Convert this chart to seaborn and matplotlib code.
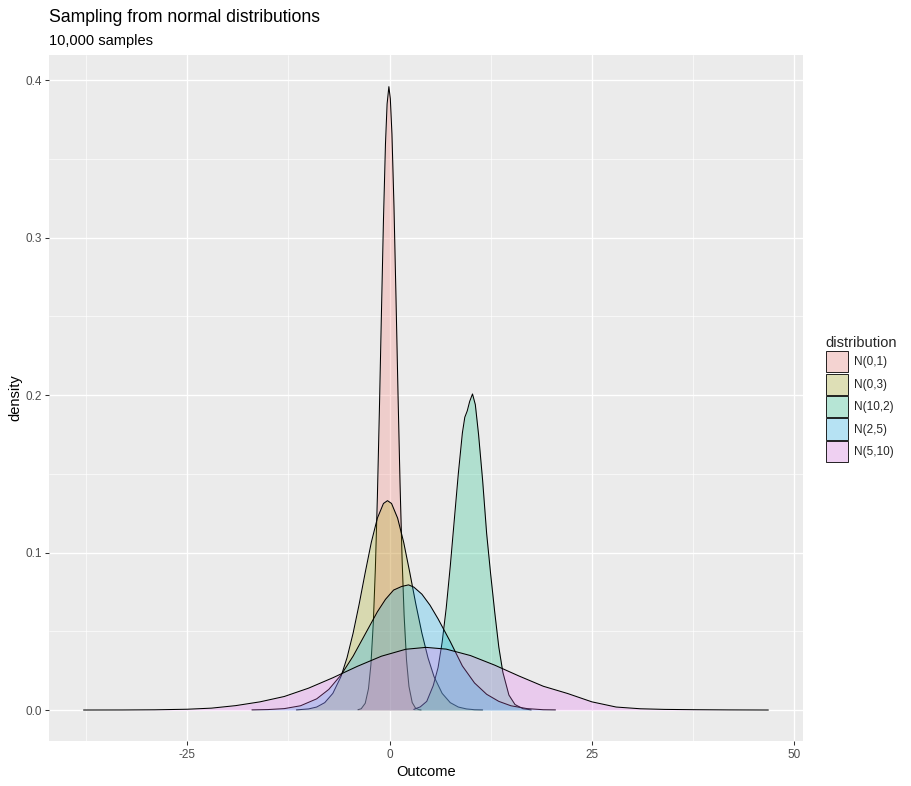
import matplotlib
matplotlib.use("Agg")
import matplotlib.pyplot as plt
from matplotlib.patches import Patch
from matplotlib.ticker import FixedLocator
import seaborn as sns

# ---------------- data ----------------
labels = ["N(0,1)", "N(0,3)", "N(10,2)", "N(2,5)", "N(5,10)"]
fill_colors = ["#F8766D", "#A3A500", "#00BF7D", "#00B0F6", "#E76BF3"]
key_colors = ["#F4D3D1", "#DEDFB6", "#B6E5D5", "#B6E2F3", "#EFD0F2"]

x_n01 = [-3.9, -3.5, -3.0, -2.6, -2.3, -2.0, -1.75, -1.5, -1.25, -1.0,
         -0.75, -0.5, -0.3, -0.08, 0.1, 0.3, 0.55, 0.8, 1.05, 1.3,
         1.55, 1.8, 2.1, 2.4, 2.8, 3.2, 3.6, 3.9]
d_n01 = [0.0002, 0.0008, 0.0043, 0.0135, 0.0288, 0.0557, 0.0897, 0.1353, 0.1908, 0.2519,
         0.3111, 0.3597, 0.3850, 0.3960, 0.3883, 0.3658, 0.3199, 0.2617, 0.2004, 0.1436,
         0.0963, 0.0604, 0.0316, 0.0150, 0.0048, 0.0013, 0.0003, 0.0001]

x_n03 = [-11.5, -10, -9, -8, -7, -6, -5.25, -4.5, -3.75, -3,
         -2.25, -1.5, -0.75, -0.25, 0.25, 1, 1.75, 2.5, 3.25, 4,
         4.75, 5.5, 6.5, 7.5, 8.5, 9.5, 10.5, 11.5]
d_n03 = [0.0001, 0.0007, 0.0019, 0.0047, 0.0106, 0.0212, 0.0332, 0.0488, 0.0673, 0.0874,
         0.1065, 0.1219, 0.1312, 0.1330, 0.1312, 0.1219, 0.1065, 0.0874, 0.0673, 0.0488,
         0.0332, 0.0212, 0.0106, 0.0047, 0.0019, 0.0007, 0.0002, 0.0001]

x_n102 = [3.0, 3.8, 4.6, 5.4, 6.0, 6.5, 7.0, 7.5, 8.0, 8.5,
          9.0, 9.3, 9.6, 9.9, 10.25, 10.6, 11.0, 11.5, 12.0, 12.5,
          13.0, 13.5, 14.0, 14.75, 15.5, 16.5, 17.5]
d_n102 = [0.0004, 0.0020, 0.0055, 0.0155, 0.0270, 0.0430, 0.0646, 0.0911, 0.1207, 0.1502,
          0.1760, 0.1860, 0.1900, 0.1960, 0.2008, 0.1940, 0.1750, 0.1460, 0.1120, 0.0860,
          0.0620, 0.0400, 0.0240, 0.0095, 0.0035, 0.0008, 0.0001]

x_n25 = [-17, -15, -13, -11, -9, -7.5, -6, -4.5, -3, -1.5,
         -0.5, 0.5, 1.5, 2.35, 3, 4, 5, 6, 7.5, 9,
         10.5, 12, 13.5, 15, 17, 19, 20.5]
d_n25 = [0.0001, 0.0003, 0.0009, 0.0027, 0.0071, 0.0131, 0.0222, 0.0342, 0.0483, 0.0624,
         0.0703, 0.0762, 0.0785, 0.0795, 0.0781, 0.0736, 0.0666, 0.0579, 0.0435, 0.0280,
         0.0172, 0.0100, 0.0055, 0.0027, 0.0009, 0.0002, 0.0001]

x_n510 = [-37.8, -33, -29, -25, -22, -19, -16, -13, -10, -7,
          -4, -1, 2, 4.5, 7, 10, 13, 16, 19, 22,
          25, 28, 31, 34, 38, 42, 46.8]
d_n510 = [0.00001, 0.00004, 0.00015, 0.0005, 0.0012, 0.0028, 0.0052, 0.0086, 0.0139, 0.0205,
          0.0277, 0.0342, 0.0386, 0.0398, 0.0387, 0.0346, 0.0285, 0.0216, 0.0151, 0.0105,
          0.0052, 0.0019, 0.0008, 0.0004, 0.0002, 0.00008, 0.00001]

x_ticks = [-25, 0, 25, 50]
x_tick_labels = ["-25", "0", "25", "50"]
x_minor = [-37.5, -12.5, 12.5, 37.5]
y_ticks = [0.0, 0.1, 0.2, 0.3, 0.4]
y_tick_labels = ["0.0", "0.1", "0.2", "0.3", "0.4"]
y_minor = [0.05, 0.15, 0.25, 0.35]

series_x = [x_n01, x_n03, x_n102, x_n25, x_n510]
series_d = [d_n01, d_n03, d_n102, d_n25, d_n510]

# ---------------- style ----------------
sns.set_style("darkgrid", rc={
    "axes.facecolor": "#EBEBEB",
    "grid.color": "white",
    "axes.edgecolor": "none",
})
plt.rcParams["font.family"] = ["Liberation Sans", "DejaVu Sans"]
plt.rcParams["axes.unicode_minus"] = False

W, H = 911, 786
fig = plt.figure(figsize=(W / 100, H / 100), dpi=100)
fig.patch.set_facecolor("white")

left_px, right_px, top_px, bottom_px = 49.3, 802.6, 54.7, 741.2
ax = fig.add_axes([left_px / W, 1 - bottom_px / H,
                   (right_px - left_px) / W, (bottom_px - top_px) / H])

for i, (xs, ds) in enumerate(zip(series_x, series_d)):
    ax.fill_between(xs, 0, ds, color=fill_colors[i], alpha=0.25, lw=0, zorder=2 + 2 * i)
    sns.lineplot(x=xs, y=ds, color="black", lw=0.75, ax=ax, sort=False,
                 estimator=None, zorder=3 + 2 * i)

ax.set_xlim(-42.03, 51.03)
ax.set_ylim(-0.0198, 0.4163)

ax.xaxis.set_major_locator(FixedLocator(x_ticks))
ax.set_xticklabels(x_tick_labels)
ax.xaxis.set_minor_locator(FixedLocator(x_minor))
ax.yaxis.set_major_locator(FixedLocator(y_ticks))
ax.set_yticklabels(y_tick_labels)
ax.yaxis.set_minor_locator(FixedLocator(y_minor))

ax.grid(which="major", color="white", lw=0.95)
ax.grid(which="minor", color="white", lw=0.45)
ax.set_axisbelow(True)
for s in ax.spines.values():
    s.set_visible(False)

ax.tick_params(which="major", length=2.7, width=0.75, color="#333333",
               labelcolor="#4D4D4D", labelsize=8.45, pad=2.8,
               bottom=True, left=True)
ax.tick_params(which="minor", length=0)
ax.set_xlabel("")
ax.set_ylabel("")

# axis titles
fig.text(425.9 / W, 1 - 776 / H, "Outcome", ha="center", va="baseline",
         fontsize=10.56, color="black")
fig.text(15 / W, 1 - 397.9 / H, "density", ha="center", va="center",
         rotation=90, fontsize=10.56, color="black")

# titles
fig.text(49.3 / W, 1 - 21.7 / H, "Sampling from normal distributions",
         ha="left", va="baseline", fontsize=12.67, color="black")
fig.text(49.3 / W, 1 - 45 / H, "10,000 samples",
         ha="left", va="baseline", fontsize=10.56, color="black")

# legend
handles = [Patch(facecolor=key_colors[i], edgecolor="black", lw=0.6) for i in range(len(labels))]
leg = ax.legend(handles, labels, title="distribution", loc="center left",
                bbox_to_anchor=(825.7 / W, 1 - 399 / H), bbox_transform=fig.transFigure,
                frameon=False, fontsize=8.45, title_fontsize=10.56,
                handlelength=1.87, handleheight=2.4, labelspacing=0.1,
                handletextpad=0.55, borderpad=0, borderaxespad=0, alignment="left")

fig.savefig("out.png", dpi=100)
